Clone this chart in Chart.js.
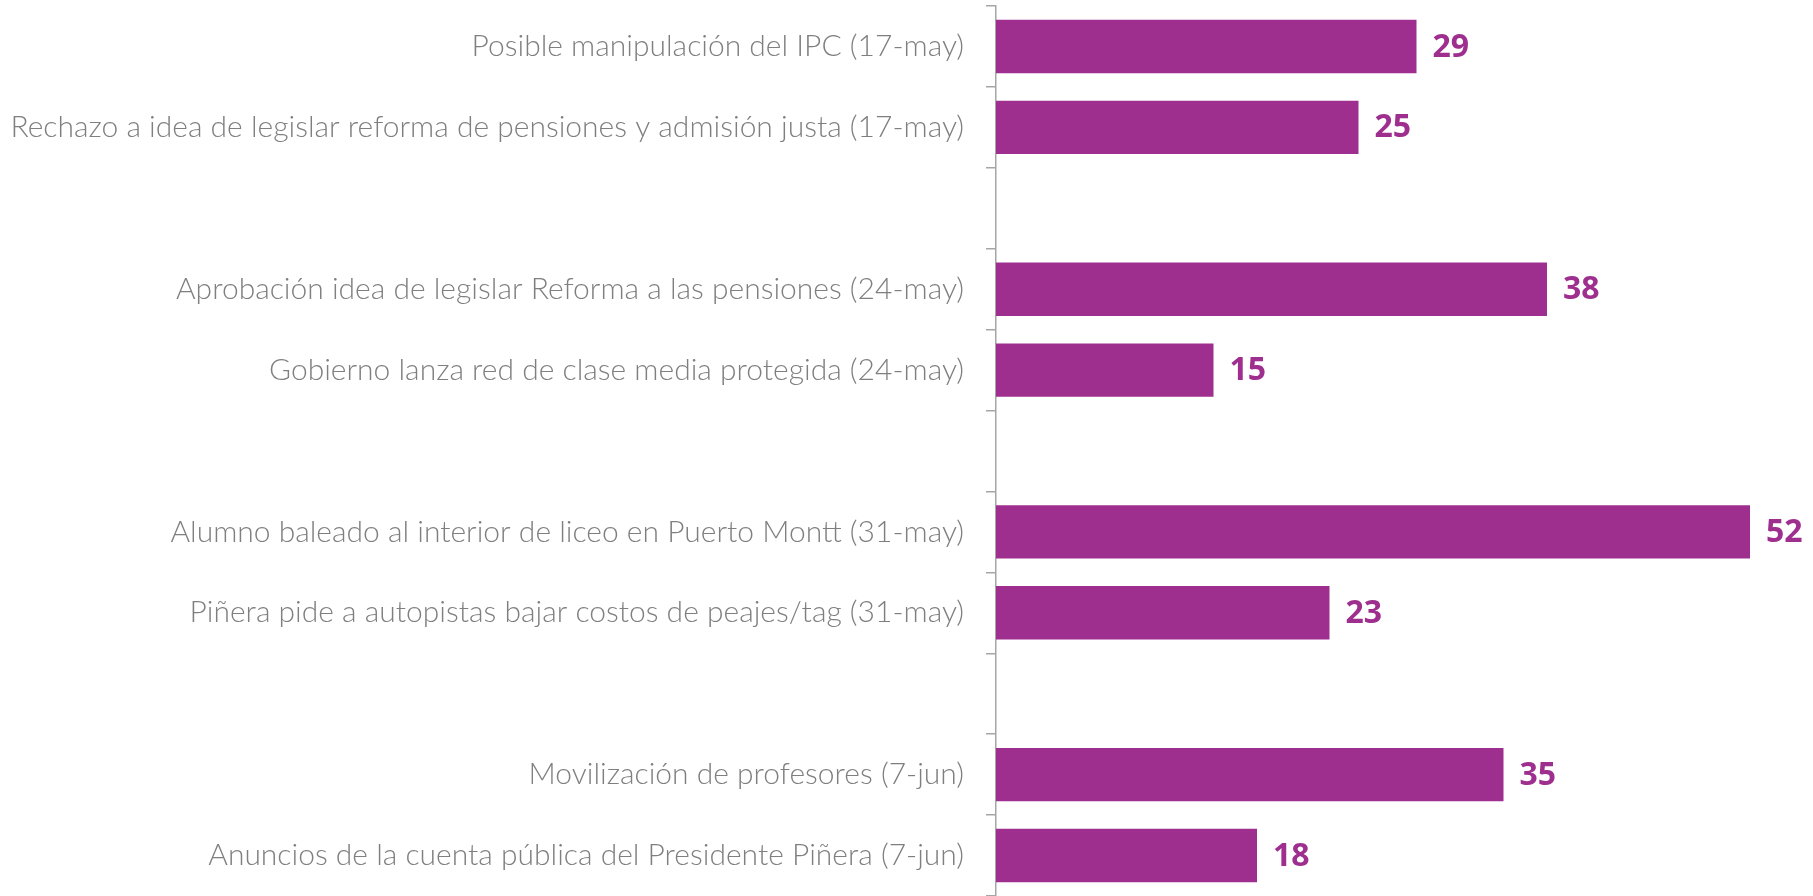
<!DOCTYPE html>
<html>
<head>
<meta charset="utf-8">
<script src="https://cdn.jsdelivr.net/npm/chart.js@4"></script>
<style>
  html, body { margin: 0; padding: 0; background: #fff; }
  #wrap { width: 1813px; height: 896px; }
</style>
</head>
<body>
<div id="wrap"><canvas id="chart"></canvas></div>
<script>
// empty strings are the gaps between weeks
const labels = [
  "Posible manipulación del IPC (17-may)",
  "Rechazo a idea de legislar reforma de pensiones y admisión justa (17-may)",
  "",
  "Aprobación idea de legislar Reforma a las pensiones (24-may)",
  "Gobierno lanza red de clase media protegida (24-may)",
  "",
  "Alumno baleado al interior de liceo en Puerto Montt (31-may)",
  "Piñera pide a autopistas bajar costos de peajes/tag (31-may)",
  "",
  "Movilización de profesores (7-jun)",
  "Anuncios de la cuenta pública del Presidente Piñera (7-jun)",
];
const values = [29, 25, null, 38, 15, null, 52, 23, null, 35, 18];

const purple = "#9e2f8e";
const gray = "#7f7f7f";

// value text at the end of each bar
const barValues = {
  id: "barValues",
  afterDatasetsDraw(chart) {
    const ctx = chart.ctx;
    const meta = chart.getDatasetMeta(0);
    ctx.save();
    ctx.fillStyle = purple;
    ctx.font = "bold 32px 'Open Sans'";
    ctx.textBaseline = "middle";
    ctx.textAlign = "left";
    meta.data.forEach((bar, i) => {
      if (values[i] == null) return;
      ctx.fillText(values[i], bar.x + 16, bar.y + 1);
    });
    ctx.restore();
  },
};

new Chart(document.getElementById("chart"), {
  type: "bar",
  data: {
    labels,
    datasets: [{
      data: values,
      backgroundColor: purple,
      categoryPercentage: 1,
      barPercentage: 0.66,
    }],
  },
  options: {
    indexAxis: "y",
    responsive: true,
    maintainAspectRatio: false,
    animation: false,
    layout: { padding: { top: 6, right: 5, bottom: 0, left: 0 } },
    plugins: { legend: { display: false }, tooltip: { enabled: false } },
    scales: {
      x: { display: false, min: 0, max: 56 },
      y: {
        afterFit(scale) {
          scale.width = 996;
          scale.paddingTop = 0;
          scale.paddingBottom = 0;
        },
        border: { display: true, color: "#a6a6a6", width: 1.5 },
        grid: { drawOnChartArea: false, drawTicks: true, tickLength: 10, color: "#a6a6a6", lineWidth: 1.5 },
        ticks: { color: gray, font: { family: "Lato", size: 30, weight: 300 }, padding: 22, autoSkip: false },
      },
    },
  },
  plugins: [barValues],
});
</script>
</body>
</html>
